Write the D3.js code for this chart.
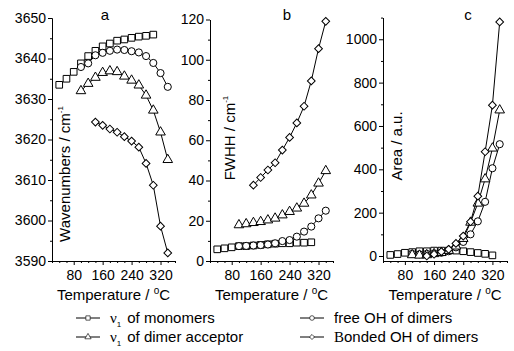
<!DOCTYPE html>
<html lang="en">
<head>
<meta charset="utf-8">
<title>OH bands vs temperature</title>
<script src="https://d3js.org/d3.v7.min.js"></script>
<style>
  body { margin: 0; background: #fff; }
  svg text { font-family: Arial, "Liberation Sans", sans-serif; fill: #000; }
  .line { fill: none; stroke: #000; stroke-width: 1px; }
  .mark { fill: #fff; stroke: #000; stroke-width: 1px; }
  .axis path, .axis line { stroke: #000; }
</style>
</head>
<body>
<div id="chart"></div>
<script>
// temperatures (deg C) for each series
const tMono     = [40, 60, 80, 100, 120, 140, 160, 180, 200, 220, 240, 260, 280, 300]
const tMonoArea = [40, 60, 80, 100, 120, 140, 160, 180, 200, 220, 240, 260, 280, 300, 320]
const tDimer    = [100, 120, 140, 160, 180, 200, 220, 240, 260, 280, 300, 320, 340]
const tBonded   = [140, 160, 180, 200, 220, 240, 260, 280, 300, 320, 340]

// panel a: wavenumbers / cm-1
const aMono   = [3633.5, 3635.0, 3636.7, 3638.8, 3640.6, 3641.9, 3643.0, 3643.7, 3644.4, 3644.7, 3645.1, 3645.4, 3645.6, 3645.9]
const aFree   = [3637.9, 3638.8, 3640.8, 3641.4, 3641.9, 3642.2, 3642.1, 3641.8, 3641.5, 3640.6, 3638.9, 3636.4, 3633.0]
const aAcc    = [3632.0, 3633.8, 3635.3, 3636.5, 3636.9, 3636.7, 3635.6, 3634.6, 3633.4, 3630.9, 3627.2, 3621.8, 3615.0]
const aBond   = [3624.3, 3623.5, 3622.6, 3621.8, 3620.7, 3619.6, 3618.1, 3614.1, 3608.7, 3598.6, 3592.0]

// panel b: FWHH / cm-1
const bMono   = [5.8, 6.3, 6.8, 7.4, 7.4, 7.7, 8.0, 8.3, 8.6, 8.8, 8.8, 9.1, 9.1, 9.3]
const bFree   = [7.4, 7.5, 7.7, 7.9, 8.2, 8.8, 9.9, 10.4, 12.1, 14.6, 17.1, 21.2, 25.0]
const bAcc    = [17.9, 18.4, 19.0, 19.5, 20.3, 21.2, 22.8, 24.5, 26.2, 28.6, 32.7, 38.6, 44.8]
const bBond   = [37.7, 41.5, 45.2, 48.8, 55.1, 61.4, 68.6, 76.9, 89.5, 105.5, 119.1]

// panel c: area / a.u.
const cMono   = [5, 9, 15, 18, 22, 22, 25, 25, 25, 25, 22, 18, 14, 10, 3]
const cFree   = [10, 8, 10, 12, 15, 22, 40, 65, 100, 160, 250, 405, 516]
const cAcc    = [5, 3, 5, 10, 15, 25, 45, 80, 155, 243, 355, 497, 673]
const cBond   = [0, 8, 20, 31, 58, 92, 158, 276, 481, 696, 1080]

const xMajor = [80, 160, 240, 320]
const xMinor = [20, 40, 60, 100, 120, 140, 180, 200, 220, 260, 280, 300, 340, 360]

const width = 514
const height = 351

const svg = d3.select("#chart").append("svg")
    .attr("width", width)
    .attr("height", height)

const panels = [
    {
        letter: "a", x0: 52, x1: 175, y0: 261, y1: 18, domain: [3590, 3650],
        ticks: [3590, 3600, 3610, 3620, 3630, 3640, 3650],
        minor: [3595, 3605, 3615, 3625, 3635, 3645],
        label: "Wavenumbers / cm", labelX: 70, labelY: 174, letterX: 105,
        series: [
            {t: tMono, v: aMono, s: "square"},
            {t: tDimer, v: aFree, s: "circle"},
            {t: tDimer, v: aAcc, s: "triangle"},
            {t: tBonded, v: aBond, s: "diamond"}
        ]
    },
    {
        letter: "b", x0: 210, x1: 333, y0: 261, y1: 19.5, domain: [0, 120],
        ticks: [0, 20, 40, 60, 80, 100, 120],
        minor: [10, 30, 50, 70, 90, 110],
        label: "FWHH / cm", labelX: 235, labelY: 138, letterX: 287,
        series: [
            {t: tMono, v: bMono, s: "square"},
            {t: tDimer, v: bFree, s: "circle"},
            {t: tDimer, v: bAcc, s: "triangle"},
            {t: tBonded, v: bBond, s: "diamond"}
        ]
    },
    {
        letter: "c", x0: 383, x1: 507, y0: 261, y1: 17.6, domain: [-23, 1100],
        ticks: [0, 200, 400, 600, 800, 1000],
        minor: [100, 300, 500, 700, 900, 1100],
        label: "Area / a.u.", labelX: 402, labelY: 146, letterX: 468, noSup: true,
        series: [
            {t: tMonoArea, v: cMono, s: "square"},
            {t: tDimer, v: cFree, s: "circle"},
            {t: tDimer, v: cAcc, s: "triangle"},
            {t: tBonded, v: cBond, s: "diamond"}
        ]
    }
]

const symbols = {
    square:   d3.symbol().type(d3.symbolSquare).size(44),
    circle:   d3.symbol().type(d3.symbolCircle).size(40),
    triangle: d3.symbol().type(d3.symbolTriangle).size(40),
    diamond:  d3.symbol().type(d3.symbolSquare).size(30)
}

function drawMark(g, shape, x, y, scale) {
    const k = scale || 1
    g.append("path")
        .attr("class", "mark")
        .attr("d", symbols[shape]())
        .attr("transform", "translate(" + x + "," + y + ")" +
              (k != 1 ? " scale(" + k + ")" : "") +
              (shape == "diamond" ? " rotate(45)" : ""))
        .attr("stroke-width", 1 / k)
}

panels.forEach(function(p) {
    const x = d3.scaleLinear().domain([20, 360]).range([p.x0, p.x1])
    const y = d3.scaleLinear().domain(p.domain).range([p.y0, p.y1])

    // bottom axis, minor then major
    svg.append("g").attr("class", "axis")
        .attr("transform", "translate(0," + p.y0 + ")")
        .call(d3.axisBottom(x).tickValues(xMinor).tickSize(2).tickSizeOuter(0).tickFormat(""))
    svg.append("g").attr("class", "axis")
        .attr("transform", "translate(0," + p.y0 + ")")
        .call(d3.axisBottom(x).tickValues(xMajor).tickSize(4).tickSizeOuter(0).tickPadding(5))
        .call(g => g.selectAll("text").attr("font-size", 14).attr("font-family", null))

    // left axis
    svg.append("g").attr("class", "axis")
        .attr("transform", "translate(" + p.x0 + ",0)")
        .call(d3.axisLeft(y).tickValues(p.minor).tickSize(2).tickSizeOuter(0).tickFormat(""))
    svg.append("g").attr("class", "axis")
        .attr("transform", "translate(" + p.x0 + ",0)")
        .call(d3.axisLeft(y).tickValues(p.ticks).tickSize(4).tickSizeOuter(0).tickPadding(2).tickFormat(d3.format("d")))
        .call(g => g.selectAll("text").attr("font-size", 14).attr("font-family", null))

    // panel letter
    svg.append("text")
        .attr("x", p.letterX).attr("y", 20)
        .attr("text-anchor", "middle")
        .attr("font-size", 15)
        .text(p.letter)

    // y label (rotated, inside plot)
    const yl = svg.append("text")
        .attr("transform", "translate(" + p.labelX + "," + p.labelY + ") rotate(-90)")
        .attr("text-anchor", "middle")
        .attr("font-size", 15)
        .text(p.label)
    if (!p.noSup) {
        yl.append("tspan").attr("font-size", 8).attr("dy", -7).text("-1")
    }

    // x label
    const xl = svg.append("text")
        .attr("x", (p.x0 + p.x1) / 2).attr("y", 300)
        .attr("text-anchor", "middle")
        .attr("font-size", 15)
        .text("Temperature / ")
    xl.append("tspan").attr("font-size", 10).attr("dy", -6).text("o")
    xl.append("tspan").attr("dy", 6).text("C")

    // series
    const line = d3.line()
        .x(d => x(d[0]))
        .y(d => y(d[1]))
    p.series.forEach(function(s) {
        const pts = s.t.map((t, i) => [t, s.v[i]])
        svg.append("path").datum(pts).attr("class", "line").attr("d", line)
        const g = svg.append("g")
        pts.forEach(d => drawMark(g, s.s, x(d[0]), y(d[1])))
    })
})

// legend
const legend = [
    {s: "square",   col: 0, row: 0, nu: true,  text: "of monomers"},
    {s: "triangle", col: 0, row: 1, nu: true,  text: "of dimer acceptor"},
    {s: "circle",   col: 1, row: 0, nu: false, text: "free OH of dimers"},
    {s: "diamond",  col: 1, row: 1, nu: false, text: "onded OH of dimers", serifB: true}
]
const legX = [76, 300]
const legY = [318, 337]

legend.forEach(function(d) {
    const lx = legX[d.col]
    const ly = legY[d.row]
    svg.append("line")
        .attr("x1", lx).attr("x2", lx + 24)
        .attr("y1", ly).attr("y2", ly)
        .attr("stroke", "#000")
    drawMark(svg, d.s, lx + 12, ly, 0.65)
    const t = svg.append("text")
        .attr("x", lx + 34).attr("y", ly + 5)
        .attr("font-size", 15)
    if (d.nu) {
        t.append("tspan").attr("font-family", "'Liberation Serif', serif").text("\u03bd")
        t.append("tspan").attr("font-size", 8).attr("dy", 4).text("1")
        t.append("tspan").attr("dy", -4).attr("dx", 6).text(d.text)
    } else if (d.serifB) {
        t.append("tspan").attr("font-family", "'Liberation Serif', serif").text("B")
        t.append("tspan").text(d.text)
    } else {
        t.text(d.text)
    }
})
</script>
</body>
</html>
